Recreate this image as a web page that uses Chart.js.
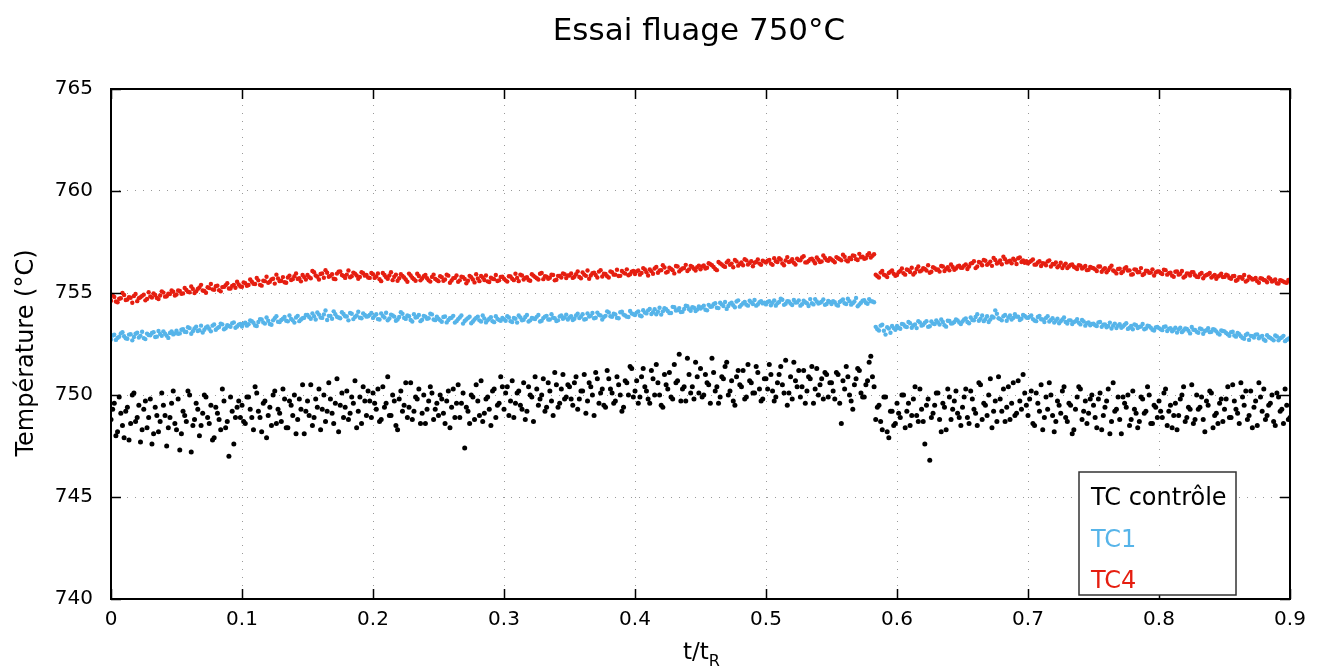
<!DOCTYPE html>
<html>
<head>
<meta charset="utf-8">
<script src="https://cdn.jsdelivr.net/npm/chart.js@4/dist/chart.umd.min.js"></script>
<style>
  html, body { margin: 0; padding: 0; background: #fff; }
  canvas { display: block; }
</style>
</head>
<body>
<canvas id="chart" width="1327" height="672"></canvas>
<script>
// Essai fluage 750°C - thermocouple readings vs t/tR
// readings are on a regular grid; the "Mid" arrays sit half a step after the main ones
const T_STEP = 0.0025;

const xTickValues = [0, 0.1, 0.2, 0.3, 0.4, 0.5, 0.6, 0.7, 0.8, 0.9];
const yTickValues = [740, 745, 750, 755, 760, 765];

const seriesLabels = ['TC contrôle', 'TC1', 'TC4'];

// TC contrôle (black)
const tcControle = [
  748.8,749.6,748.2,749.1,747.9,749.4,748.6,750.1,748.9,747.7,749.3,748.4,749.8,748.1,749.0,748.7,749.5,747.5,748.9,750.2,
  748.3,747.3,749.2,748.7,750.0,748.5,749.6,748.0,749.1,749.9,748.6,747.8,749.4,748.8,750.3,748.4,747.0,749.2,748.9,749.7,
  749.5,748.6,749.9,748.9,750.4,749.2,748.2,749.7,749.0,748.5,750.2,749.3,748.7,749.8,748.4,749.5,750.0,748.8,749.3,748.1,
  749.7,750.5,748.9,749.4,748.3,750.0,749.2,749.8,748.6,750.8,749.5,748.9,750.2,749.1,749.6,748.4,749.9,750.4,749.0,749.7,
  750.1,749.3,748.7,750.4,749.6,749.0,750.0,748.5,749.8,749.2,750.6,749.4,748.8,749.9,750.3,749.1,748.6,749.7,750.1,749.3,
  749.0,749.8,748.6,750.2,749.4,748.9,750.5,749.6,747.4,749.2,750.0,748.8,749.7,750.7,749.1,749.9,748.5,750.3,749.5,750.9,
  749.3,750.4,749.7,748.9,750.1,749.5,750.6,749.2,750.0,748.7,750.3,749.8,750.8,749.4,750.2,749.0,750.5,749.6,751.0,749.9,
  750.4,749.5,750.9,749.8,750.2,749.1,750.6,750.0,751.1,749.6,750.3,749.4,750.8,750.1,749.7,750.5,749.2,750.7,750.0,751.3,
  750.2,749.6,750.9,750.4,749.8,751.2,750.0,750.6,749.5,751.0,750.3,749.9,751.5,750.7,749.7,750.4,751.8,750.1,749.8,750.9,
  751.3,750.0,750.6,749.6,751.1,750.4,749.9,750.8,751.6,750.2,749.7,750.9,750.5,751.2,749.9,750.7,750.1,751.4,750.3,749.8,
  750.8,751.5,750.2,749.9,751.0,750.5,751.7,750.1,749.8,750.7,751.2,750.4,749.6,750.9,751.4,750.3,750.0,750.8,751.1,749.9,
  750.6,749.8,751.0,748.6,750.3,750.9,749.7,750.5,751.3,750.1,749.9,750.7,751.9,750.4,749.4,748.7,749.9,748.2,749.2,748.5,
  749.6,748.9,750.0,749.2,748.5,749.8,749.0,750.3,748.7,749.5,746.8,749.1,750.1,748.8,749.6,748.3,749.9,749.3,750.2,748.9,
  749.4,750.3,748.6,749.8,749.1,750.6,748.8,749.5,750.0,748.4,749.7,750.9,749.2,748.7,750.4,749.6,749.0,750.7,749.3,750.1,
  749.0,750.2,748.5,749.6,750.5,748.9,749.3,750.0,748.2,749.7,749.1,750.4,748.7,749.5,748.3,749.9,750.3,749.2,748.6,749.8,
  749.5,748.4,750.1,749.0,749.7,748.1,750.6,749.3,748.8,749.9,749.4,748.5,750.2,749.1,748.7,749.8,749.2,750.0,748.6,749.4,
  749.7,748.9,750.3,749.2,748.4,749.6,749.0,750.0,748.7,749.4,750.5,748.8,749.3,749.9,748.2,749.5,750.1,749.0,748.6,749.8,
  749.3,750.4,748.9,749.7,749.1,750.6,749.5,748.8,750.2,749.4,748.5,749.9,750.3,749.0,749.6,748.7,750.1,749.2,748.6,749.5,
  748.9
];
const tcControleMid = [
  749.3,748.0,749.9,748.5,749.2,747.8,750.0,748.7,749.5,748.3,749.7,748.9,747.6,749.4,748.2,750.1,749.0,748.4,749.6,748.6,
  749.8,748.1,749.0,750.2,747.2,748.8,749.3,748.5,750.0,748.9,749.5,747.9,749.1,748.3,749.7,748.7,749.9,747.6,749.4,748.9,
  748.7,749.9,749.3,748.3,750.1,748.9,749.6,747.9,749.4,750.0,748.6,749.1,750.3,748.4,749.7,749.0,748.1,749.8,750.5,749.2,
  749.0,748.5,749.8,750.3,749.3,748.7,750.6,749.1,749.6,748.2,750.1,749.4,748.8,749.9,750.7,749.2,748.6,749.7,750.2,748.9,
  749.6,750.3,748.8,749.4,750.9,749.0,749.7,748.3,750.2,749.5,748.9,750.6,749.2,749.8,748.6,750.0,749.3,750.4,748.8,749.6,
  750.0,749.1,749.7,748.4,750.3,749.6,748.9,750.1,749.4,748.6,749.9,750.5,749.0,748.7,749.8,749.3,750.2,748.9,749.6,750.4,
  750.1,749.0,750.7,749.6,750.2,749.3,748.8,750.4,749.9,750.9,749.5,750.0,749.2,750.6,749.7,751.1,749.4,750.3,749.8,750.5,
  749.8,750.6,749.3,750.2,751.0,749.7,750.4,749.0,750.8,750.1,749.5,751.2,750.3,749.6,750.9,750.0,749.4,750.6,751.4,749.9,
  750.7,749.9,751.3,750.2,749.6,750.8,751.5,750.0,749.4,750.5,751.1,749.8,750.6,752.0,750.3,749.7,751.0,750.4,751.6,750.1,
  749.9,751.0,750.5,751.8,750.2,749.6,750.9,751.4,750.0,750.7,749.5,751.2,750.4,749.8,751.5,750.6,750.1,751.1,749.7,750.8,
  750.3,751.0,749.7,750.6,751.4,750.1,749.5,750.9,751.6,750.4,749.9,751.2,750.2,750.8,749.6,751.3,750.5,749.8,751.0,750.6,
  750.2,751.1,749.6,750.7,751.4,750.0,749.3,750.8,751.2,749.9,750.5,751.6,750.9,748.8,749.5,748.3,749.9,747.9,749.2,748.6,
  749.1,750.0,748.4,749.6,749.0,750.4,748.7,749.3,747.6,749.8,748.9,749.5,750.1,748.2,749.4,750.3,748.8,749.7,749.1,748.5,
  749.9,748.9,750.2,749.3,748.5,750.5,749.6,749.0,750.8,749.2,748.7,749.8,750.3,749.4,748.8,750.6,749.1,749.7,751.0,749.5,
  749.8,748.6,750.1,749.2,748.3,749.9,750.6,749.0,748.7,749.5,750.2,748.9,749.6,748.1,749.3,750.4,748.8,749.7,749.1,750.0,
  748.9,749.8,748.3,749.4,750.3,748.7,749.2,749.9,748.1,749.6,750.0,748.8,749.3,748.4,749.9,749.1,750.4,748.6,749.5,748.9,
  749.2,750.1,748.5,749.5,749.0,748.3,749.8,750.4,748.9,749.3,748.6,750.0,749.4,748.8,749.7,750.2,748.4,749.1,749.6,748.7,
  749.8,748.9,750.5,749.3,748.6,749.9,750.2,749.0,748.4,749.7,750.6,749.2,748.8,749.5,750.0,748.5,749.9,749.3,750.3,748.8
];

// TC1 (blue)
const tc1 = [
  752.72,752.95,752.8,753.02,752.88,752.76,752.98,752.84,753.05,752.9,752.79,753.01,752.93,753.08,752.86,752.99,753.12,752.91,753.04,752.97,
  753.15,753.02,753.22,753.09,753.28,753.13,753.35,753.18,753.06,753.31,753.24,753.4,753.2,753.33,753.46,753.27,753.38,753.52,753.3,753.44,
  753.36,753.55,753.47,753.62,753.41,753.58,753.7,753.5,753.64,753.44,753.76,753.59,753.68,753.82,753.61,753.73,753.55,753.88,753.7,753.79,
  753.92,753.74,753.86,754.05,753.8,753.95,753.68,753.88,754.1,753.83,753.76,753.97,753.85,754.02,753.72,753.9,753.79,754.0,753.84,753.93,
  753.78,753.96,753.7,753.87,754.03,753.75,753.9,753.64,753.82,753.98,753.73,753.86,753.6,753.8,753.92,753.69,753.84,753.76,753.95,753.67,
  753.74,753.59,753.85,753.68,753.79,753.55,753.72,753.9,753.63,753.77,753.52,753.7,753.84,753.6,753.75,753.66,753.81,753.57,753.73,753.64,
  753.71,753.86,753.62,753.78,753.55,753.8,753.69,753.92,753.66,753.75,753.83,753.6,753.77,753.88,753.7,753.79,753.63,753.85,753.74,753.94,
  753.8,753.68,753.9,753.77,753.96,753.72,753.85,754.02,753.79,753.93,753.7,753.88,754.05,753.83,753.95,753.76,754.08,753.9,753.82,754.0,
  753.92,754.1,753.86,754.04,754.15,753.97,754.2,754.08,753.94,754.25,754.12,754.02,754.3,754.16,754.07,754.22,754.35,754.13,754.28,754.19,
  754.24,754.38,754.15,754.32,754.45,754.28,754.52,754.36,754.22,754.48,754.4,754.58,754.33,754.5,754.43,754.62,754.46,754.38,754.55,754.49,
  754.44,754.6,754.52,754.38,754.56,754.67,754.47,754.58,754.41,754.53,754.64,754.45,754.55,754.36,754.5,754.7,754.48,754.57,754.42,754.61,
  754.46,754.55,754.38,754.62,754.5,754.72,754.43,754.58,754.35,754.52,754.65,754.47,754.6,754.55,753.22,753.4,753.15,753.32,753.05,753.28,
  753.38,753.25,753.46,753.33,753.52,753.41,753.28,753.56,753.44,753.62,753.37,753.5,753.66,753.45,753.58,753.35,753.63,753.52,753.7,753.55,
  753.6,753.75,753.52,753.68,753.82,753.64,753.9,753.72,753.58,753.85,754.15,753.76,753.66,753.92,753.8,753.7,753.96,753.84,753.74,753.88,
  753.78,753.9,753.65,753.82,753.71,753.58,753.86,753.68,753.55,753.74,753.62,753.8,753.5,753.66,753.57,753.72,753.46,753.6,753.52,753.42,
  753.5,753.38,753.58,753.44,753.32,753.55,753.4,753.28,753.47,753.36,753.52,753.3,753.22,753.42,753.34,753.48,753.26,753.37,753.2,753.31,
  753.28,753.18,753.36,753.24,753.12,753.3,753.21,753.08,753.26,753.15,753.33,753.19,753.05,753.22,753.14,753.27,753.1,753.2,753.02,753.16,
  753.12,752.98,753.08,752.92,753.04,752.88,752.76,753.0,752.9,752.82,752.97,752.85,752.72,752.93,752.8,752.68,752.87,752.78,752.9,752.7,
  752.78
];
const tc1Mid = [
  752.92,752.7,752.86,753.08,752.78,752.96,752.68,753.0,752.82,753.1,752.74,752.94,753.04,752.84,753.14,752.9,753.0,752.8,753.12,753.02,
  753.0,753.2,753.1,753.32,753.0,753.26,753.14,753.4,753.2,753.36,753.12,753.46,753.28,753.5,753.22,753.42,753.34,753.56,753.36,753.48,
  753.5,753.4,753.66,753.54,753.38,753.72,753.56,753.8,753.48,753.66,753.86,753.58,753.74,753.64,753.9,753.66,753.8,753.62,753.76,753.92,
  753.82,754.0,753.7,753.94,753.78,754.14,753.88,753.74,753.96,753.8,754.06,753.86,753.66,753.98,753.82,754.08,753.76,753.92,753.86,754.02,
  753.88,753.72,754.0,753.8,753.66,753.94,753.84,753.7,754.06,753.78,753.9,753.68,753.96,753.82,753.62,753.88,753.74,753.98,753.7,753.84,
  753.66,753.82,753.56,753.76,753.88,753.62,753.8,753.5,753.7,753.84,753.6,753.78,753.66,753.9,753.56,753.74,753.62,753.86,753.68,753.78,
  753.64,753.8,753.58,753.74,753.9,753.66,753.82,753.6,753.78,753.72,753.92,753.64,753.84,753.7,753.96,753.76,753.66,753.9,753.8,753.7,
  753.86,753.74,753.98,753.84,753.7,754.0,753.88,753.76,754.04,753.9,753.82,754.1,753.86,753.98,753.78,754.06,753.94,753.84,754.12,753.96,
  754.04,753.9,754.16,754.0,754.22,754.06,753.96,754.28,754.1,754.2,754.02,754.32,754.14,754.26,754.08,754.38,754.2,754.3,754.12,754.34,
  754.3,754.18,754.42,754.34,754.5,754.26,754.44,754.56,754.36,754.52,754.3,754.64,754.42,754.56,754.38,754.54,754.66,754.44,754.6,754.52,
  754.56,754.4,754.64,754.5,754.72,754.42,754.6,754.48,754.66,754.54,754.38,754.62,754.5,754.7,754.44,754.58,754.52,754.68,754.46,754.56,
  754.6,754.42,754.56,754.68,754.46,754.6,754.5,754.76,754.44,754.62,754.52,754.7,754.58,753.34,753.16,753.44,752.96,753.26,753.38,753.2,
  753.3,753.48,753.36,753.58,753.3,753.46,753.62,753.4,753.54,753.34,753.6,753.48,753.56,753.7,753.42,753.64,753.5,753.58,753.66,753.48,
  753.7,753.58,753.8,753.66,753.96,753.74,753.62,753.86,753.7,753.8,753.98,753.72,753.86,753.64,753.9,753.78,753.84,753.68,753.92,753.8,
  753.84,753.72,753.62,753.88,753.7,753.78,753.6,753.76,753.64,753.52,753.7,753.58,753.66,753.48,753.62,753.54,753.68,753.4,753.56,753.48,
  753.42,753.56,753.34,753.46,753.38,753.26,753.5,753.4,753.3,753.44,753.24,753.38,753.46,753.28,753.36,753.22,753.4,753.3,753.16,753.34,
  753.22,753.34,753.14,753.28,753.2,753.06,753.3,753.16,753.24,753.02,753.2,753.1,753.26,753.0,753.18,753.08,753.22,753.12,752.96,753.14,
  753.04,752.9,753.1,752.86,752.98,752.8,752.94,752.7,752.88,752.96,752.78,752.9,752.66,752.84,752.74,752.92,752.68,752.82,752.64,752.76
];

// TC4 (red)
const tc4 = [
  754.62,754.81,754.55,754.74,754.9,754.68,754.77,754.85,754.6,754.79,754.92,754.71,754.83,754.98,754.76,754.88,755.02,754.84,754.95,755.06,
  754.93,755.1,754.98,755.15,755.04,755.2,755.08,755.27,755.12,755.01,755.24,755.18,755.33,755.14,755.29,755.38,755.22,755.35,755.26,755.42,
  755.31,755.48,755.39,755.55,755.44,755.62,755.36,755.58,755.5,755.67,755.46,755.71,755.6,755.53,755.76,755.64,755.82,755.69,755.57,755.78,
  755.88,755.72,756.02,755.8,755.93,755.75,755.99,755.84,755.7,755.95,756.06,755.83,755.9,755.77,756.0,755.86,755.79,755.97,755.89,755.74,
  755.92,755.81,755.68,755.98,755.77,755.86,755.63,755.9,755.72,755.84,755.66,755.95,755.75,755.6,755.83,755.71,755.88,755.62,755.79,755.69,
  755.58,755.78,755.66,755.85,755.61,755.74,755.55,755.8,755.69,755.6,755.77,755.52,755.71,755.83,755.64,755.57,755.75,755.68,755.59,755.79,
  755.7,755.56,755.81,755.63,755.74,755.9,755.66,755.77,755.6,755.85,755.72,755.94,755.68,755.8,755.75,755.88,755.65,755.83,755.96,755.73,
  755.86,755.74,755.92,755.79,756.01,755.84,755.7,755.97,755.88,756.05,755.81,755.93,755.76,756.02,755.9,755.83,756.08,755.95,755.87,756.04,
  755.93,756.1,755.98,756.15,755.86,756.07,756.2,755.99,756.12,756.25,756.04,756.18,755.96,756.3,756.14,756.22,756.08,756.33,756.19,756.27,
  756.16,756.35,756.24,756.41,756.28,756.12,756.45,756.32,756.5,756.38,756.26,756.55,756.42,756.36,756.6,756.47,756.31,756.52,756.44,756.58,
  756.49,756.62,756.38,756.56,756.7,756.45,756.59,756.52,756.66,756.4,756.61,756.74,756.5,756.57,756.68,756.46,756.63,756.55,756.72,756.58,
  756.64,756.51,756.7,756.6,756.78,756.55,756.66,756.82,756.62,756.75,756.68,756.86,756.74,756.9,755.82,756.0,755.9,755.78,756.05,755.94,
  755.88,756.08,755.97,756.15,756.03,755.91,756.18,756.06,756.22,756.1,755.99,756.26,756.14,756.05,756.3,756.19,756.11,756.28,756.2,756.34,
  756.24,756.4,756.3,756.47,756.22,756.52,756.36,756.58,756.44,756.33,756.62,756.5,756.41,756.66,756.55,756.46,756.6,756.7,756.52,756.48,
  756.45,756.58,756.39,756.5,756.32,756.44,756.55,756.3,756.41,756.26,756.48,756.35,756.22,756.38,756.29,756.18,756.34,756.25,756.12,756.28,
  756.21,756.08,756.3,756.15,756.02,756.24,756.1,755.96,756.19,756.05,756.27,756.11,755.92,756.14,756.03,755.88,756.09,755.99,756.16,756.01,
  756.06,755.93,756.12,755.97,755.85,756.04,755.9,756.08,755.82,755.95,756.02,755.87,755.78,755.98,755.84,755.92,755.76,755.89,755.81,755.94,
  755.79,755.86,755.7,755.83,755.65,755.77,755.88,755.62,755.74,755.68,755.58,755.72,755.64,755.53,755.69,755.6,755.48,755.63,755.56,755.5,
  755.58
];
const tc4Mid = [
  754.9,754.58,754.72,755.0,754.66,754.8,754.52,754.95,754.74,754.86,754.64,755.04,754.78,754.9,754.7,755.08,754.82,754.96,755.12,754.88,
  755.12,754.96,755.25,755.06,755.32,755.0,755.2,755.4,755.1,755.28,755.44,755.16,755.36,755.08,755.3,755.48,755.22,755.4,755.55,755.32,
  755.52,755.35,755.66,755.45,755.74,755.4,755.6,755.8,755.55,755.7,755.9,755.58,755.78,755.5,755.85,755.68,755.96,755.72,755.88,755.66,
  755.78,756.08,755.86,755.66,755.96,756.12,755.8,755.92,755.68,756.04,755.88,755.74,756.1,755.82,755.95,755.7,756.02,755.85,755.76,755.98,
  755.74,755.96,755.58,755.88,755.7,756.02,755.8,755.6,755.92,755.76,755.55,755.86,755.68,755.94,755.62,755.82,755.72,755.56,755.9,755.64,
  755.82,755.6,755.9,755.5,755.72,755.86,755.62,755.78,755.48,755.84,755.66,755.92,755.58,755.76,755.86,755.54,755.7,755.88,755.62,755.8,
  755.62,755.82,755.7,755.94,755.58,755.86,755.74,755.64,755.92,755.78,755.66,755.98,755.82,755.7,755.9,755.62,755.84,755.76,755.92,755.86,
  755.96,755.8,756.06,755.72,755.9,756.1,755.86,756.0,755.76,756.12,755.94,755.82,756.06,755.9,756.14,755.84,756.0,756.16,755.92,756.08,
  756.06,755.9,756.22,756.02,756.16,755.94,756.28,756.1,756.36,756.0,756.24,756.12,756.32,756.06,756.2,756.38,756.16,756.28,756.1,756.34,
  756.3,756.2,756.46,756.36,756.18,756.52,756.4,756.28,756.58,756.44,756.62,756.34,756.5,756.66,756.4,756.56,756.48,756.64,756.38,756.54,
  756.58,756.44,756.7,756.52,756.64,756.36,756.76,756.56,756.48,756.68,756.6,756.8,756.5,756.66,756.58,756.74,756.52,756.84,756.62,756.7,
  756.58,756.76,756.66,756.88,756.6,756.72,756.84,756.66,756.92,756.78,756.7,756.95,756.82,755.9,755.76,756.08,755.86,755.98,756.1,755.84,
  756.02,756.2,755.9,756.12,756.24,756.0,756.3,756.1,756.18,756.36,756.04,756.22,756.16,756.32,756.08,756.26,756.4,756.14,756.3,756.24,
  756.34,756.18,756.44,756.56,756.3,756.48,756.62,756.38,756.54,756.72,756.44,756.6,756.78,756.5,756.58,756.68,756.42,756.74,756.6,756.56,
  756.52,756.64,756.4,756.56,756.46,756.36,756.6,756.42,756.5,756.34,756.22,756.44,756.3,756.4,756.24,756.36,756.2,756.32,756.14,756.24,
  756.16,756.3,756.04,756.22,756.12,756.34,756.06,756.18,755.98,756.2,756.1,755.9,756.16,756.02,756.22,755.94,756.08,756.0,755.86,756.06,
  755.98,756.14,755.9,756.0,755.8,756.06,755.94,755.76,755.96,755.86,756.02,755.8,755.92,755.72,755.88,755.98,755.82,755.7,755.86,755.78,
  755.9,755.74,755.82,755.6,755.78,755.7,755.56,755.8,755.66,755.74,755.5,755.7,755.62,755.76,755.56,755.66,755.46,755.6,755.52,755.64
];

const FONT = 'DejaVu Sans';
Chart.defaults.font.family = FONT;
Chart.defaults.color = '#000';

const toPoints = (values, midValues) =>
  values.map((v, i) => ({ x: i * T_STEP, y: v }))
    .concat(midValues.map((v, i) => ({ x: (i + 0.5) * T_STEP, y: v })));

// gnuplot-like frame, inward ticks, titles and an in-plot legend
const decorPlugin = {
  id: 'decor',
  afterDraw(chart) {
    const { ctx, chartArea: a, scales: { x, y } } = chart;
    ctx.save();

    // frame + mirrored inward ticks
    ctx.strokeStyle = '#000';
    ctx.lineWidth = 1.5;
    ctx.beginPath();
    xTickValues.forEach(v => {
      const px = Math.round(x.getPixelForValue(v)) + 0.5;
      ctx.moveTo(px, a.bottom); ctx.lineTo(px, a.bottom - 10);
      ctx.moveTo(px, a.top); ctx.lineTo(px, a.top + 10);
    });
    yTickValues.forEach(v => {
      const py = Math.round(y.getPixelForValue(v)) + 0.5;
      ctx.moveTo(a.left, py); ctx.lineTo(a.left + 10, py);
      ctx.moveTo(a.right, py); ctx.lineTo(a.right - 10, py);
    });
    ctx.stroke();
    ctx.lineWidth = 2;
    ctx.strokeRect(a.left, a.top, a.right - a.left, a.bottom - a.top);

    // main title
    ctx.fillStyle = '#000';
    ctx.textAlign = 'center';
    ctx.textBaseline = 'alphabetic';
    ctx.font = `31px "${FONT}"`;
    ctx.fillText('Essai fluage 750°C', 699, 40);

    // x axis title t/tR with subscript
    ctx.font = `23px "${FONT}"`;
    const main = 't/t';
    const wMain = ctx.measureText(main).width;
    ctx.font = `16px "${FONT}"`;
    const wSub = ctx.measureText('R').width;
    const cx = (a.left + a.right) / 2 + 1;
    const startX = cx - (wMain + wSub) / 2;
    ctx.textAlign = 'left';
    ctx.font = `23px "${FONT}"`;
    ctx.fillText(main, startX, 659);
    ctx.font = `16px "${FONT}"`;
    ctx.fillText('R', startX + wMain, 666);

    // y axis title
    ctx.save();
    ctx.translate(33, (a.top + a.bottom) / 2 + 9);
    ctx.rotate(-Math.PI / 2);
    ctx.textAlign = 'center';
    ctx.font = `24px "${FONT}"`;
    ctx.fillText('Température (°C)', 0, 0);
    ctx.restore();

    // legend box
    const bx = a.right - 211, by = a.bottom - 127, bw = 157, bh = 123;
    ctx.fillStyle = '#fff';
    ctx.fillRect(bx, by, bw, bh);
    ctx.strokeStyle = '#333';
    ctx.lineWidth = 1.5;
    ctx.strokeRect(bx, by, bw, bh);
    ctx.font = `24px "${FONT}"`;
    ctx.textAlign = 'left';
    chart.data.datasets.forEach((ds, i) => {
      ctx.fillStyle = ds.backgroundColor;
      ctx.fillText(ds.label, bx + 12, by + 33 + i * 41.5);
    });

    ctx.restore();
  }
};

new Chart(document.getElementById('chart'), {
  type: 'scatter',
  data: {
    datasets: [
      {
        label: seriesLabels[0],
        data: toPoints(tcControle, tcControleMid),
        backgroundColor: '#000000',
        borderWidth: 0,
        pointRadius: 2.5
      },
      {
        label: seriesLabels[1],
        data: toPoints(tc1, tc1Mid),
        backgroundColor: '#56b4e9',
        borderWidth: 0,
        pointRadius: 2.2
      },
      {
        label: seriesLabels[2],
        data: toPoints(tc4, tc4Mid),
        backgroundColor: '#e51e10',
        borderWidth: 0,
        pointRadius: 2.2
      }
    ]
  },
  options: {
    responsive: false,
    animation: false,
    layout: { padding: { top: 89, right: 37, left: 0, bottom: 0 } },
    plugins: {
      legend: { display: false },
      title: { display: false },
      tooltip: { enabled: false }
    },
    scales: {
      x: {
        type: 'linear',
        min: 0,
        max: 0.9,
        afterBuildTicks: scale => { scale.ticks = xTickValues.map(v => ({ value: v })); },
        afterFit: scale => { scale.height = 73; },
        ticks: {
          font: { size: 20 },
          padding: 9,
          maxRotation: 0,
          callback: v => String(Math.round(v * 10) / 10)
        },
        grid: { color: '#9a9a9a', lineWidth: 1, drawTicks: false },
        border: { display: false, dash: [1, 7] }
      },
      y: {
        min: 740,
        max: 765,
        afterBuildTicks: scale => { scale.ticks = yTickValues.map(v => ({ value: v })); },
        afterFit: scale => { scale.width = 111; },
        ticks: {
          font: { size: 20 },
          padding: 18
        },
        grid: { color: '#9a9a9a', lineWidth: 1, drawTicks: false },
        border: { display: false, dash: [1, 7] }
      }
    }
  },
  plugins: [decorPlugin]
});
</script>
</body>
</html>
